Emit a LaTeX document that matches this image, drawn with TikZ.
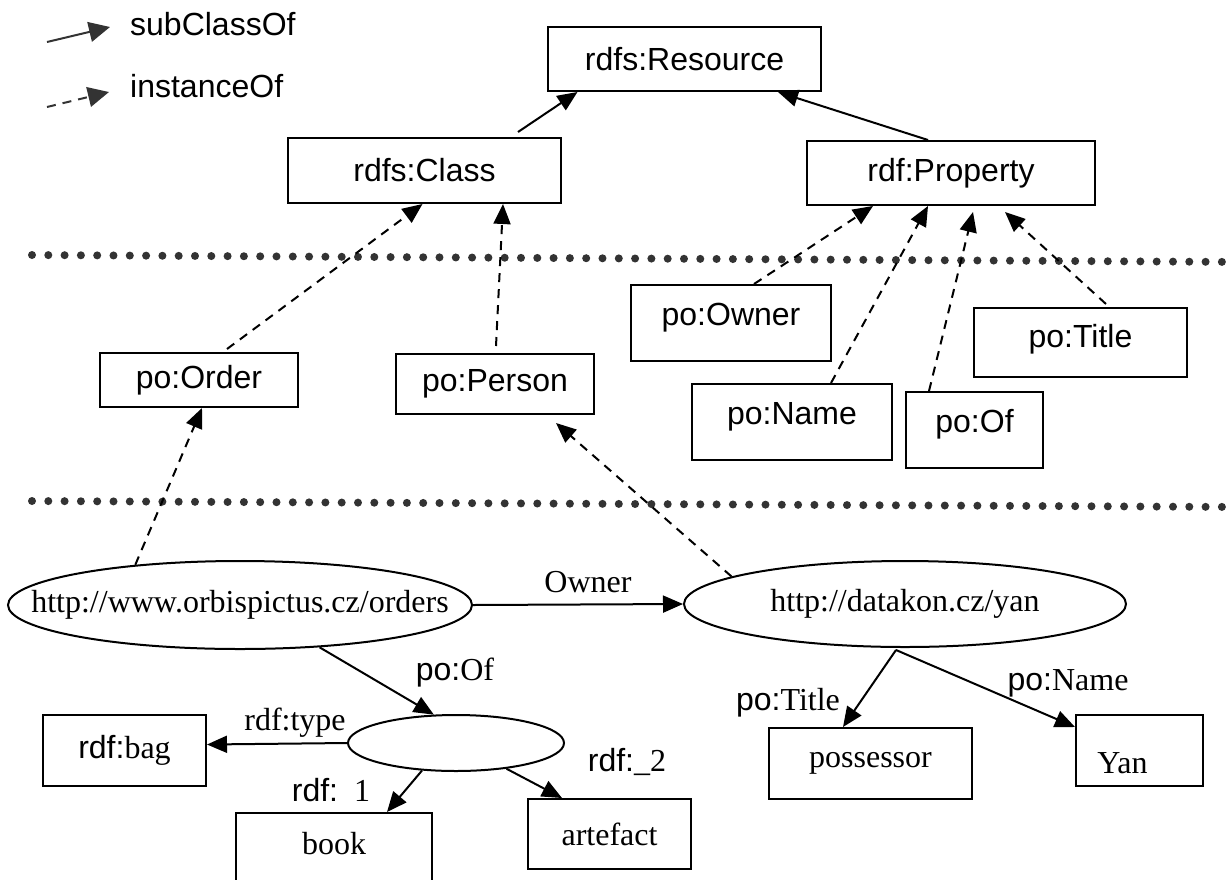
\documentclass[tikz,border=0pt]{standalone}
\usepackage{fontspec}
\setmainfont{Liberation Serif}
\setsansfont{Liberation Sans}
\usetikzlibrary{arrows.meta,shapes.geometric}
\newcommand{\sz}{\fontsize{32pt}{38pt}\selectfont}

\begin{document}
\begin{tikzpicture}[x=1pt,y=-1pt,
    box/.style={draw, line width=2pt, inner sep=0pt, font=\sz\sffamily},
    uri/.style={ellipse, draw, line width=2pt, inner sep=0pt},
    lbl/.style={inner sep=0pt, font=\sz\rmfamily},
    textup/.style={text depth=#1}, textup/.default=18pt,
    sub/.style={line width=2pt, -{Triangle[length=20pt,width=17pt]}},
    inst/.style={sub, dash pattern=on 9pt off 7pt},
    big/.style={-{Triangle[length=21pt,width=20pt]}},
    sep/.style={draw=black!80, line width=8pt, line cap=round, dash pattern=on 0pt off 16.3pt}]
\useasboundingbox (0,0) rectangle (1229,879);

\coordinate (s0) at (47,42); \coordinate (s1) at (110,27);
\coordinate (i0) at (47,107); \coordinate (i1) at (109,92);
\draw[sub, big, draw=black!80] (s0) -- (s1);
\draw[inst, big, draw=black!80] (i0) -- (i1);
\node[lbl, font=\sz\sffamily, anchor=base west] (lsub) at (130,35) {subClassOf};
\node[lbl, font=\sz\sffamily, anchor=base west] (linst) at (130,97) {instanceOf};

\draw[sep] (32,255) -- (1240,262);
\draw[sep] (32,501) -- (1240,507);

\node[box, minimum width=273pt, minimum height=64pt] (rsrc) at (684.5,59) {rdfs:Resource};
\node[box, minimum width=273pt, minimum height=65pt] (cls) at (424.5,170.5) {rdfs:Class};
\node[box, minimum width=288pt, minimum height=64pt] (prop) at (951,173) {rdf:Property};

\node[box, minimum width=198pt, minimum height=54pt] (order) at (199,380) {po:Order};
\node[box, minimum width=198pt, minimum height=60pt] (person) at (495,384) {po:Person};
\node[box, textup, minimum width=200pt, minimum height=76pt] (powner) at (731,323) {po:Owner};
\node[box, textup, minimum width=200pt, minimum height=76pt] (pname) at (792,422) {po:Name};
\node[box, textup, minimum width=137pt, minimum height=76pt] (pof) at (974.5,430) {po:Of};
\node[box, textup=14pt, minimum width=213pt, minimum height=69pt] (ptitle) at (1080.5,342.5) {po:Title};

\node[uri, minimum width=464pt, minimum height=88pt,
  label={[lbl]center:{http://www.orbispictus.cz/orders}}] (orders) at (240,605) {};
\node[uri, minimum width=442pt, minimum height=86pt,
  label={[lbl]center:{http://datakon.cz/yan}}] (yanres) at (905,604) {};
\node[uri, minimum width=216pt, minimum height=56pt] (blank) at (456,743) {};

\node[box, minimum width=163pt, minimum height=71pt] (bag) at (124.5,750.5) {rdf:\rmfamily bag};
\node[box, font=\sz\rmfamily, textup=20pt, minimum width=196pt, minimum height=80pt] (book) at (334,853) {book};
\node[box, font=\sz\rmfamily, minimum width=163pt, minimum height=70pt] (artefact) at (609.5,834) {artefact};
\node[box, font=\sz\rmfamily, minimum width=203pt, minimum height=71pt] (possessor) at (870.5,763.5) {possessor};
\node[box, minimum width=127pt, minimum height=71pt,
  label={[lbl, xshift=-17pt, yshift=-13pt]center:Yan}] (yanlit) at (1139.5,750.5) {};

\node[lbl] (lowner) at (588,582) {Owner};
\node[lbl] (lof) at (455,673) {\sffamily po:\rmfamily Of};
\node[lbl] (ltype) at (295,723) {rdf:type};
\node[lbl] (lone) at (331,790) {\sffamily rdf:\rmfamily\ \ 1};
\node[lbl] (ltwo) at (627,762) {\sffamily rdf:\rmfamily\_2};
\node[lbl] (ltitle) at (788,703) {\sffamily po:\rmfamily Title};
\node[lbl] (lname) at (1068,683) {\sffamily po:\rmfamily Name};

\draw[sub] ([xshift=93.5pt,yshift=5pt]cls.north) -- ([xshift=-107pt]rsrc.south);
\draw[sub] ([xshift=-23pt]prop.north) -- ([xshift=93.5pt]rsrc.south);
\draw[inst] ([xshift=28pt,yshift=3pt]order.north) -- ([xshift=-2pt]cls.south);
\draw[inst] ([xshift=1pt,yshift=7pt]person.north) -- ([xshift=78.5pt]cls.south);
\draw[inst] ([xshift=23pt]powner.north) -- ([xshift=-78pt]prop.south);
\draw[inst] ([xshift=39pt]pname.north) -- ([xshift=-23pt]prop.south);
\draw[inst] ([xshift=-45.5pt]pof.north) -- ([xshift=22pt,yshift=-6pt]prop.south);
\draw[inst] ([xshift=25.5pt,yshift=3pt]ptitle.north) -- ([xshift=54pt,yshift=-6pt]prop.south);

\draw[inst] (orders.159) -- ([xshift=3pt]order.south);
\draw[inst] (yanres.171) -- ([xshift=61pt,yshift=-8pt]person.south);
\draw[sub] (orders.east) -- (yanres.west);

\draw[sub] (orders.-28) -- (blank.128);
\draw[sub] (blank.west) -- ([yshift=6pt]bag.east);
\draw[sub] (blank.219) -- ([xshift=53pt]book.north);
\draw[sub] (blank.-27) -- ([xshift=-47.5pt]artefact.north);

\coordinate (yfoot) at ([xshift=-9pt,yshift=-2pt]yanres.south);
\draw[sub] (yfoot) -- ([xshift=-27.5pt]possessor.north);
\draw[sub] (yfoot) -- ([yshift=-13pt]yanlit.north west);
\end{tikzpicture}
\end{document}
